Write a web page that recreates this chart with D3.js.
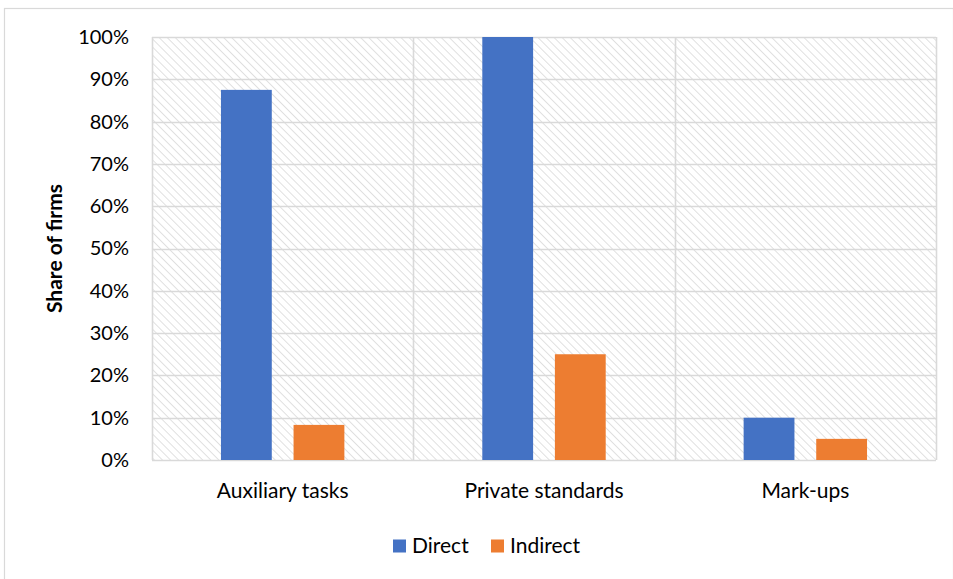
<!DOCTYPE html>
<html>
<head>
<meta charset="utf-8">
<script src="https://cdn.jsdelivr.net/npm/d3@7"></script>
<style>
  html, body { margin: 0; padding: 0; background: #fff; }
  svg { display: block; font-family: Lato, "Open Sans", sans-serif; }
</style>
</head>
<body>
<svg id="chart" width="953" height="579"></svg>
<script>
const categories = ["Auxiliary tasks", "Private standards", "Mark-ups"];
const seriesNames = ["Direct", "Indirect"];
const directValues = [0.875, 1.0, 0.10];
const indirectValues = [0.083, 0.25, 0.05];
const yTicks = [0, 0.1, 0.2, 0.3, 0.4, 0.5, 0.6, 0.7, 0.8, 0.9, 1.0];
const colors = ["#4472C4", "#ED7D31"];

const svg = d3.select("#chart");
const W = 953, H = 579;
const plot = { left: 152, top: 37, right: 936, bottom: 460 };
const FS = 21;

// outer frame
svg.append("rect")
  .attr("x", 4.5).attr("y", 8.5).attr("width", W - 4).attr("height", H - 1)
  .attr("fill", "#fff").attr("stroke", "#d9d9d9").attr("stroke-width", 1.2);

// diagonal hatch for plot background
const defs = svg.append("defs");
const pat = defs.append("pattern")
  .attr("id", "hatch").attr("patternUnits", "userSpaceOnUse")
  .attr("width", 5.7).attr("height", 5.7)
  .attr("patternTransform", "rotate(-45)");
pat.append("line")
  .attr("x1", 0).attr("y1", 0).attr("x2", 0).attr("y2", 5.7)
  .attr("stroke", "#d9d9d9").attr("stroke-width", 1.6);

const x0 = d3.scaleBand().domain(categories)
  .range([plot.left, plot.right]).paddingInner(0).paddingOuter(0);
const y = d3.scaleLinear().domain([0, 1]).range([plot.bottom, plot.top]);

svg.append("rect")
  .attr("x", plot.left).attr("y", plot.top)
  .attr("width", plot.right - plot.left).attr("height", plot.bottom - plot.top)
  .attr("fill", "url(#hatch)");

// horizontal gridlines
svg.append("g").selectAll("line").data(yTicks).join("line")
  .attr("x1", plot.left).attr("x2", plot.right)
  .attr("y1", d => Math.round(y(d)) + 0.5).attr("y2", d => Math.round(y(d)) + 0.5)
  .attr("stroke", "#d9d9d9").attr("stroke-width", 1.6);

// vertical category separators
const seps = [plot.left, ...categories.map(c => x0(c) + x0.bandwidth())];
svg.append("g").selectAll("line").data(seps).join("line")
  .attr("x1", d => Math.round(d) + 0.5).attr("x2", d => Math.round(d) + 0.5)
  .attr("y1", plot.top).attr("y2", plot.bottom)
  .attr("stroke", "#d9d9d9").attr("stroke-width", 1.6);

// bars
const x1 = d3.scaleBand().domain(seriesNames).range([0, x0.bandwidth()])
  .paddingInner(0.30).paddingOuter(0.95);
const rows = categories.map((c, i) => ({ c, vals: [directValues[i], indirectValues[i]] }));
const groups = svg.append("g").selectAll("g").data(rows).join("g")
  .attr("transform", d => `translate(${x0(d.c)},0)`);
groups.selectAll("rect").data(d => d.vals.map((v, j) => ({ v, s: seriesNames[j], j })))
  .join("rect")
  .attr("x", d => x1(d.s)).attr("width", x1.bandwidth())
  .attr("y", d => y(d.v)).attr("height", d => y(0) - y(d.v))
  .attr("fill", d => colors[d.j]);

// y-axis tick labels
const yAxis = d3.axisLeft(y).tickValues(yTicks).tickFormat(d3.format(".0%")).tickSize(0).tickPadding(0);
const ya = svg.append("g").attr("transform", `translate(${plot.left - 23},0)`).call(yAxis);
ya.select(".domain").remove();
ya.selectAll("text").attr("font-size", 20).attr("fill", "#000")
  .attr("font-family", "Lato, sans-serif");

// x-axis category labels
const xAxis = d3.axisBottom(x0).tickSize(0).tickPadding(0);
const xa = svg.append("g").attr("transform", `translate(0,${plot.bottom + 23})`).call(xAxis);
xa.select(".domain").remove();
xa.selectAll("text").attr("font-size", FS).attr("fill", "#000")
  .attr("font-family", "Lato, sans-serif");

// y-axis title
svg.append("text")
  .attr("transform", `translate(62,${(plot.top + plot.bottom) / 2}) rotate(-90)`)
  .attr("text-anchor", "middle").attr("font-size", FS).attr("font-weight", "bold")
  .text("Share of firms");

// legend
const legend = svg.append("g").attr("transform", "translate(393,546)");
const legendX = [0, 98];
seriesNames.forEach((s, i) => {
  const g = legend.append("g").attr("transform", `translate(${legendX[i]},0)`);
  g.append("rect").attr("x", 0).attr("y", -6.5).attr("width", 13).attr("height", 13).attr("fill", colors[i]);
  g.append("text").attr("x", 19).attr("y", 0).attr("dy", "0.35em")
    .attr("font-size", FS).attr("fill", "#000").text(s);
});
</script>
</body>
</html>
